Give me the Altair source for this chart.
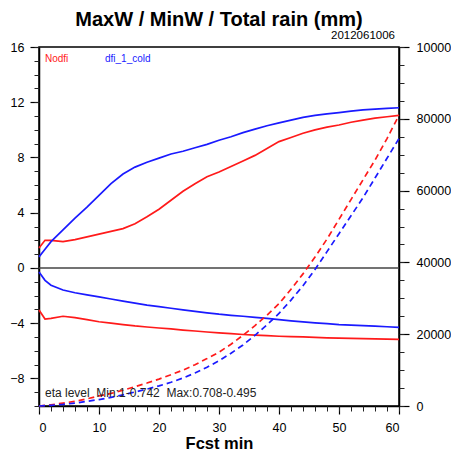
import altair as alt
import pandas as pd

# ---- data ----
t = [0, 1, 2, 4, 6, 8, 10, 12, 14, 16, 18, 20, 22, 24, 26, 28, 30, 32, 34, 36, 38,
     40, 42, 44, 46, 48, 50, 52, 54, 56, 58, 60]

maxw_nodfi = [1.45, 2.0, 2.0, 1.9, 2.05, 2.25, 2.45, 2.65, 2.85, 3.2, 3.7, 4.25, 4.9, 5.55,
              6.1, 6.6, 6.95, 7.35, 7.75, 8.15, 8.65, 9.15, 9.45, 9.75, 10.0, 10.2, 10.35,
              10.55, 10.7, 10.85, 10.95, 11.05]
maxw_dfi = [0.8, 1.35, 1.9, 2.75, 3.6, 4.4, 5.25, 6.1, 6.8, 7.3, 7.65, 7.95, 8.25, 8.45,
            8.7, 8.95, 9.25, 9.5, 9.8, 10.05, 10.3, 10.5, 10.7, 10.9, 11.05, 11.15, 11.25,
            11.35, 11.45, 11.5, 11.55, 11.6]
minw_nodfi = [-3.05, -3.7, -3.65, -3.5, -3.6, -3.75, -3.9, -4.0, -4.1, -4.2, -4.28, -4.35,
              -4.42, -4.5, -4.57, -4.64, -4.7, -4.76, -4.82, -4.87, -4.91, -4.95, -4.98,
              -5.0, -5.03, -5.06, -5.08, -5.1, -5.12, -5.14, -5.16, -5.17]
minw_dfi = [-0.3, -0.9, -1.25, -1.6, -1.8, -1.95, -2.1, -2.25, -2.4, -2.55, -2.7, -2.8,
            -2.92, -3.04, -3.15, -3.25, -3.35, -3.43, -3.5, -3.58, -3.66, -3.75, -3.83,
            -3.91, -3.98, -4.04, -4.1, -4.14, -4.18, -4.22, -4.26, -4.3]
rain_nodfi = [0, 150, 350, 800, 1300, 2000, 2800, 3500, 4400, 5400, 6400, 7500, 8700,
              10000, 11500, 13200, 15000, 17200, 19700, 22400, 25300, 28500, 32500, 36800,
              41500, 46500, 52000, 57500, 63000, 68500, 74500, 81000]
rain_dfi = [0, 100, 200, 450, 800, 1300, 1800, 2400, 3100, 3900, 4700, 5600, 6600, 7800,
            9200, 10800, 12600, 14700, 17000, 19700, 22600, 25800, 29500, 33500, 38000,
            43000, 48000, 53000, 58000, 63500, 69000, 74500]

series_names = ["Nodfi", "dfi_1_cold"]
series_colors = ["#ff1a1a", "#1a1aff"]

x_major = [0, 10, 20, 30, 40, 50, 60]
x_minor = list(range(0, 61, 2))
yl_major = [-8, -4, 0, 4, 8, 12, 16]
yl_minor = list(range(-10, 17, 1))
yr_major = [0, 20000, 40000, 60000, 80000, 100000]
yr_minor = list(range(0, 100001, 5000))

title_text = "MaxW / MinW / Total rain (mm)"
date_text = "2012061006"
note_text = "eta level\u00a0\u00a0Min:1-0.742\u00a0\u00a0Max:0.708-0.495"
x_title = "Fcst min"

# ---- tables ----
rows = []
for name, key, vals in [("Nodfi", "max_n", maxw_nodfi), ("dfi_1_cold", "max_d", maxw_dfi),
                        ("Nodfi", "min_n", minw_nodfi), ("dfi_1_cold", "min_d", minw_dfi)]:
    for ti, v in zip(t, vals):
        rows.append({"t": ti, "v": v, "series": name, "line": key})
wdf = pd.DataFrame(rows)

rrows = []
for name, vals in [("Nodfi", rain_nodfi), ("dfi_1_cold", rain_dfi)]:
    for ti, v in zip(t, vals):
        rrows.append({"t": ti, "rain": v, "series": name})
rdf = pd.DataFrame(rrows)

FONT = "Liberation Sans"
color = alt.Color("series:N", scale=alt.Scale(domain=series_names, range=series_colors), legend=None)
xs = alt.Scale(domain=[0, 60], nice=False, zero=False)
yls = alt.Scale(domain=[-10, 16], nice=False, zero=False)
yrs = alt.Scale(domain=[0, 100000], nice=False, zero=False)

ax_common = dict(labelFont=FONT, labelFontSize=12.5, labelColor="black", tickColor="black",
                 domainColor="black", grid=False)

x_major_axis = alt.Axis(values=x_major, tickSize=8, tickWidth=1.2, domainWidth=1.5,
                        labelPadding=7, title=x_title, titleFont=FONT, titleFontSize=16.5,
                        titleFontWeight="bold", titleColor="black", titlePadding=2,
                        orient="bottom", **ax_common)
x_minor_axis = alt.Axis(values=x_minor, tickSize=5, tickWidth=1, labels=False, domain=False,
                        title=None, orient="bottom", tickColor="#222", grid=False)
yl_major_axis = alt.Axis(values=yl_major, tickSize=9, tickWidth=1.2, domainWidth=1.5,
                         labelPadding=6, title=None, orient="left", **ax_common)
yl_minor_axis = alt.Axis(values=yl_minor, tickSize=5, tickWidth=1, labels=False, domain=False,
                         title=None, orient="left", tickColor="#222", grid=False)
yr_major_axis = alt.Axis(values=yr_major, tickSize=10, tickWidth=1.2, domainWidth=1.5,
                         labelPadding=7, format="d", title=None, orient="right", **ax_common)
yr_minor_axis = alt.Axis(values=yr_minor, tickSize=5, tickWidth=1, labels=False, domain=False,
                         title=None, orient="right", tickColor="#222", grid=False)

zero = alt.Chart(pd.DataFrame({"v": [0]})).mark_rule(color="#444", strokeWidth=1.5).encode(
    y=alt.Y("v:Q", scale=yls, axis=None))
w_lines = alt.Chart(wdf).mark_line(strokeWidth=1.7).encode(
    x=alt.X("t:Q", scale=xs, axis=x_major_axis),
    y=alt.Y("v:Q", scale=yls, axis=yl_major_axis),
    color=color, detail="line:N")
w_minor = alt.Chart(wdf).mark_line(opacity=0).encode(
    x=alt.X("t:Q", scale=xs, axis=x_minor_axis),
    y=alt.Y("v:Q", scale=yls, axis=yl_minor_axis),
    detail="line:N")
left_group = alt.layer(zero, w_lines, w_minor).resolve_axis(x="independent", y="independent")

r_lines = alt.Chart(rdf).mark_line(strokeWidth=1.7, strokeDash=[6, 4]).encode(
    x=alt.X("t:Q", scale=xs, axis=None),
    y=alt.Y("rain:Q", scale=yrs, axis=yr_major_axis),
    color=color)
r_minor = alt.Chart(rdf).mark_line(opacity=0).encode(
    x=alt.X("t:Q", scale=xs, axis=None),
    y=alt.Y("rain:Q", scale=yrs, axis=yr_minor_axis),
    detail="series:N")
right_group = alt.layer(r_lines, r_minor).resolve_axis(y="independent")

leg_df = pd.DataFrame({"series": series_names, "px": [6, 66]})
legend_text = alt.Chart(leg_df).mark_text(align="left", baseline="alphabetic", font=FONT,
                                          fontSize=10).encode(
    x=alt.X("px:Q", scale=None), y=alt.value(15), text="series:N",
    color=alt.Color("series:N", scale=alt.Scale(domain=series_names, range=series_colors), legend=None))
note = alt.Chart(pd.DataFrame({"s": [note_text]})).mark_text(
    align="left", baseline="alphabetic", font=FONT, fontSize=12, color="#222").encode(
    x=alt.value(6), y=alt.value(350), text="s:N")
date = alt.Chart(pd.DataFrame({"s": [date_text]})).mark_text(
    align="right", baseline="alphabetic", font=FONT, fontSize=11.5, color="black").encode(
    x=alt.value(356), y=alt.value(-8), text="s:N")
title = alt.Chart(pd.DataFrame({"s": [title_text]})).mark_text(
    align="center", baseline="alphabetic", font=FONT, fontSize=20, fontWeight="bold",
    color="black").encode(x=alt.value(180), y=alt.value(-21.5), text="s:N")

chart = alt.layer(left_group, right_group, legend_text, note, date, title).resolve_scale(
    y="independent").resolve_axis(x="independent", y="independent").properties(
    width=360, height=359,
    autosize=alt.AutoSizeParams(type="none"),
    padding={"left": 31, "top": 39, "right": 52, "bottom": 45},
).configure_view(stroke="black", strokeWidth=1.5)

chart.save("out.html", embed_options={"renderer": "svg", "actions": False})
